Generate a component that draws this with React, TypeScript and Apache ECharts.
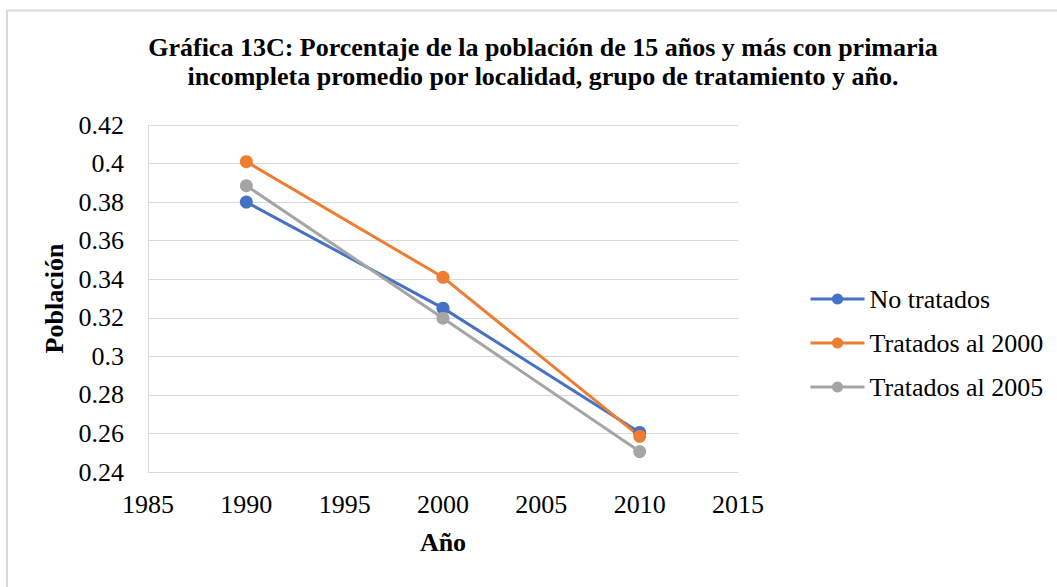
import React, { useEffect, useRef } from "react";
import * as echarts from "echarts";

const titleLines = [
  "Gráfica 13C: Porcentaje de la población de 15 años y más con primaria",
  "incompleta promedio por localidad, grupo de tratamiento y año.",
];
const years = [1990, 2000, 2010];
const seriesNames = ["No tratados", "Tratados al 2000", "Tratados al 2005"];
const noTratados = [0.38, 0.325, 0.2605];
const tratados2000 = [0.401, 0.341, 0.2585];
const tratados2005 = [0.3885, 0.3198, 0.2506];
const colors = ["#4472C4", "#ED7D31", "#A5A5A5"];
const xName = "Año";
const yName = "Población";

const FONT = "Liberation Serif";

export default function App() {
  const ref = useRef<HTMLDivElement>(null);
  useEffect(() => {
    if (!ref.current) return;
    const chart = echarts.init(ref.current, null, { renderer: "svg" });
    const values = [noTratados, tratados2000, tratados2005];
    chart.setOption({
      animation: false,
      backgroundColor: "#ffffff",
      textStyle: { fontFamily: FONT },
      title: {
        text: titleLines.join("\n"),
        left: 538,
        top: 28,
        textAlign: "center",
        textStyle: {
          fontFamily: FONT,
          fontWeight: "bold",
          fontSize: 26,
          lineHeight: 29,
          color: "#000",
        },
      },
      graphic: [
        {
          type: "rect",
          shape: { x: 7, y: 10.5, width: 1200, height: 800 },
          style: { fill: "none", stroke: "#d9d9d9", lineWidth: 2 },
          silent: true,
        },
      ],
      legend: {
        orient: "vertical",
        left: 804,
        top: 281,
        itemWidth: 54,
        itemHeight: 14,
        itemGap: 18,
        data: seriesNames,
        lineStyle: { width: 3 },
        textStyle: { fontFamily: FONT, fontSize: 26, color: "#000", padding: [0, 0, 0, 0] },
      },
      grid: { left: 148, top: 125, right: 319, bottom: 115, containLabel: false },
      xAxis: {
        type: "value",
        min: 1985,
        max: 2015,
        interval: 5,
        name: xName,
        nameLocation: "middle",
        nameGap: 57,
        nameTextStyle: { fontFamily: FONT, fontSize: 26, fontWeight: "bold", color: "#000" },
        axisLine: { show: true, lineStyle: { color: "#d9d9d9", width: 1 } },
        axisTick: { show: false },
        splitLine: { show: false },
        axisLabel: {
          fontFamily: FONT,
          fontSize: 26,
          color: "#000",
          margin: 19,
          formatter: (v: number) => String(v),
        },
      },
      yAxis: {
        type: "value",
        min: 0.24,
        max: 0.42,
        interval: 0.02,
        name: yName,
        nameLocation: "middle",
        nameRotate: 90,
        nameGap: 80,
        nameTextStyle: { fontFamily: FONT, fontSize: 26, fontWeight: "bold", color: "#000" },
        axisLine: { show: true, lineStyle: { color: "#d9d9d9", width: 1 } },
        axisTick: { show: false },
        splitLine: { show: true, lineStyle: { color: "#d9d9d9", width: 1 } },
        axisLabel: {
          fontFamily: FONT,
          fontSize: 26,
          color: "#000",
          margin: 24,
          formatter: (v: number) => String(parseFloat(v.toFixed(2))),
        },
      },
      series: seriesNames.map((name, i) => ({
        name,
        type: "line",
        data: years.map((y, j) => [y, values[i][j]]),
        symbol: "circle",
        symbolSize: 13,
        lineStyle: { width: 3, color: colors[i] },
        itemStyle: { color: colors[i] },
      })),
    });
    return () => chart.dispose();
  }, []);
  return (
    <div
      ref={ref}
      style={{ position: "absolute", left: 0, top: 0, width: 1057, height: 587 }}
    />
  );
}
